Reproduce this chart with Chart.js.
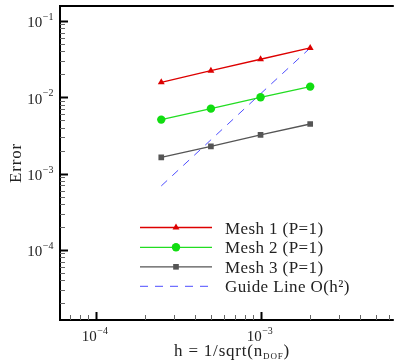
<!DOCTYPE html>
<html>
<head>
<meta charset="utf-8">
<script src="https://cdn.jsdelivr.net/npm/chart.js@4/dist/chart.umd.min.js"></script>
<style>
  html, body { margin: 0; padding: 0; background: #fff; overflow: hidden; }
  #wrap { width: 396px; height: 364px; }
</style>
</head>
<body>
<div id="wrap"><canvas id="errChart" width="396" height="364"></canvas></div>
<script>
// grid spacing h and error values
const hValues = [2.5e-4, 5e-4, 1e-3, 2e-3];
const mesh1 = [0.0157, 0.0223, 0.0315, 0.0443];
const mesh2 = [0.0051, 0.0071, 0.0100, 0.0138];
const mesh3 = [0.00163, 0.00228, 0.00322, 0.00447];
const guide = [0.00069, 0.00277, 0.0111, 0.0443];

const seriesLabels = ['Mesh 1 (P=1)', 'Mesh 2 (P=1)', 'Mesh 3 (P=1)', 'Guide Line O(h\u00B2)'];

// decades that carry a label
const xDecades = [-4, -3];
const yDecades = [-4, -3, -2, -1];

const SERIF = '"Liberation Serif", "DejaVu Serif", serif';

function pts(ys) {
    return hValues.map((h, i) => ({ x: h, y: ys[i] }));
}

// 10^n label, align 'right' or 'center'
function drawPow(ctx, exp, x, y, align) {
    const base = '10';
    const sup = '\u2212' + Math.abs(exp);
    ctx.font = '15px ' + SERIF;
    const wb = ctx.measureText(base).width;
    ctx.font = '10px ' + SERIF;
    const ws = ctx.measureText(sup).width;
    let left = x;
    if (align === 'right') left = x - wb - ws;
    if (align === 'center') left = x - (wb + ws) / 2;
    ctx.textAlign = 'left';
    ctx.textBaseline = 'alphabetic';
    ctx.font = '15px ' + SERIF;
    ctx.fillText(base, left, y);
    ctx.font = '10px ' + SERIF;
    ctx.fillText(sup, left + wb + 0.5, y - 7.5);
}

const axesPlugin = {
    id: 'texAxes',
    afterDraw(chart) {
        const { ctx, chartArea: a, scales } = chart;
        const xs = scales.x, ys = scales.y;
        ctx.save();
        ctx.fillStyle = '#222';
        ctx.strokeStyle = '#000';

        // frame: left, bottom, top
        ctx.lineWidth = 2;
        ctx.beginPath();
        ctx.moveTo(a.right + 2, a.top);
        ctx.lineTo(a.left, a.top);
        ctx.lineTo(a.left, a.bottom);
        ctx.lineTo(a.right + 2, a.bottom);
        ctx.stroke();

        // y ticks (inward)
        const yLo = Math.floor(Math.log10(ys.min)), yHi = Math.ceil(Math.log10(ys.max));
        for (let e = yLo; e <= yHi; e++) {
            for (let m = 1; m <= 9; m++) {
                const v = m * Math.pow(10, e);
                if (v < ys.min || v > ys.max) continue;
                const py = Math.round(ys.getPixelForValue(v)) + 0.5;
                ctx.lineWidth = m === 1 ? 2 : 1;
                ctx.strokeStyle = m === 1 ? '#000' : '#666';
                ctx.beginPath();
                ctx.moveTo(a.left, py);
                ctx.lineTo(a.left + (m === 1 ? 8 : 5), py);
                ctx.stroke();
            }
        }
        // x ticks (inward)
        const xLo = Math.floor(Math.log10(xs.min)), xHi = Math.ceil(Math.log10(xs.max));
        for (let e = xLo; e <= xHi; e++) {
            for (let m = 1; m <= 9; m++) {
                const v = m * Math.pow(10, e);
                if (v < xs.min || v > xs.max) continue;
                const px = Math.round(xs.getPixelForValue(v)) + 0.5;
                ctx.lineWidth = m === 1 ? 2 : 1;
                ctx.strokeStyle = m === 1 ? '#000' : '#666';
                ctx.beginPath();
                ctx.moveTo(px, a.bottom);
                ctx.lineTo(px, a.bottom - (m === 1 ? 8 : 5));
                ctx.stroke();
            }
        }

        // tick labels
        ctx.fillStyle = '#222';
        yDecades.forEach(e => {
            const py = ys.getPixelForValue(Math.pow(10, e));
            drawPow(ctx, e, a.left - 7, py + 6.5, 'right');
        });
        xDecades.forEach(e => {
            const px = xs.getPixelForValue(Math.pow(10, e));
            drawPow(ctx, e, px - 1, a.bottom + 21, 'center');
        });

        // axis titles
        ctx.letterSpacing = '0.8px';
        ctx.font = '17px ' + SERIF;
        ctx.textAlign = 'center';
        ctx.textBaseline = 'middle';
        ctx.save();
        ctx.translate(17, (a.top + a.bottom) / 2);
        ctx.rotate(-Math.PI / 2);
        ctx.fillText('Error', 0, 0);
        ctx.restore();

        const t1 = 'h = 1/sqrt(n', t2 = 'DOF', t3 = ')';
        ctx.font = '17px ' + SERIF;
        const w1 = ctx.measureText(t1).width, w3 = ctx.measureText(t3).width;
        ctx.font = '9px ' + SERIF;
        const w2 = ctx.measureText(t2).width;
        let tx = 232 - (w1 + w2 + w3) / 2;
        const ty = 356;
        ctx.textAlign = 'left';
        ctx.textBaseline = 'alphabetic';
        ctx.font = '17px ' + SERIF;
        ctx.fillText(t1, tx, ty);
        ctx.font = '9px ' + SERIF;
        ctx.fillText(t2, tx + w1, ty + 3);
        ctx.font = '17px ' + SERIF;
        ctx.fillText(t3, tx + w1 + w2, ty);

        // legend inside plot
        const rows = [227.5, 247.3, 266.8, 286.3];
        chart.data.datasets.forEach((ds, i) => {
            const y = rows[i];
            ctx.save();
            ctx.strokeStyle = ds.borderColor;
            ctx.lineWidth = ds.borderWidth;
            ctx.setLineDash(ds.borderDash || []);
            ctx.beginPath();
            ctx.moveTo(140, y);
            ctx.lineTo(212, y);
            ctx.stroke();
            ctx.restore();
            if (ds.pointRadius > 0) {
                ctx.fillStyle = ds.pointBackgroundColor;
                ctx.strokeStyle = ds.pointBackgroundColor;
                Chart.helpers.drawPoint(ctx, {
                    pointStyle: ds.pointStyle, radius: ds.pointRadius, borderWidth: 0, rotation: 0
                }, 176, y);
            }
            ctx.fillStyle = '#222';
            ctx.font = '17px ' + SERIF;
            ctx.letterSpacing = '0.4px';
            ctx.textAlign = 'left';
            ctx.textBaseline = 'alphabetic';
            ctx.fillText(ds.label, 225, y + 6);
        });
        ctx.restore();
    }
};

new Chart(document.getElementById('errChart'), {
    type: 'line',
    data: {
        datasets: [
            {
                label: seriesLabels[0], data: pts(mesh1),
                borderColor: '#dd0000', borderWidth: 1.3,
                pointStyle: 'triangle', pointRadius: 4,
                pointBackgroundColor: '#dd0000', pointBorderWidth: 0
            },
            {
                label: seriesLabels[1], data: pts(mesh2),
                borderColor: '#22dd22', borderWidth: 1.3,
                pointStyle: 'circle', pointRadius: 4.2,
                pointBackgroundColor: '#11dd11', pointBorderWidth: 0
            },
            {
                label: seriesLabels[2], data: pts(mesh3),
                borderColor: '#555555', borderWidth: 1.3,
                pointStyle: 'rect', pointRadius: 4,
                pointBackgroundColor: '#555555', pointBorderWidth: 0
            },
            {
                label: seriesLabels[3], data: pts(guide),
                borderColor: '#4d4dff', borderWidth: 1,
                borderDash: [8, 7], pointRadius: 0
            }
        ]
    },
    options: {
        responsive: false,
        animation: false,
        devicePixelRatio: 1,
        layout: { padding: { left: 60, top: 6, right: 0, bottom: 44 } },
        plugins: { legend: { display: false }, tooltip: { enabled: false } },
        scales: {
            x: { type: 'logarithmic', min: 6.08e-5, max: 6.25e-3, display: false },
            y: { type: 'logarithmic', min: 1.21e-5, max: 0.157, display: false }
        }
    },
    plugins: [axesPlugin]
});
</script>
</body>
</html>
